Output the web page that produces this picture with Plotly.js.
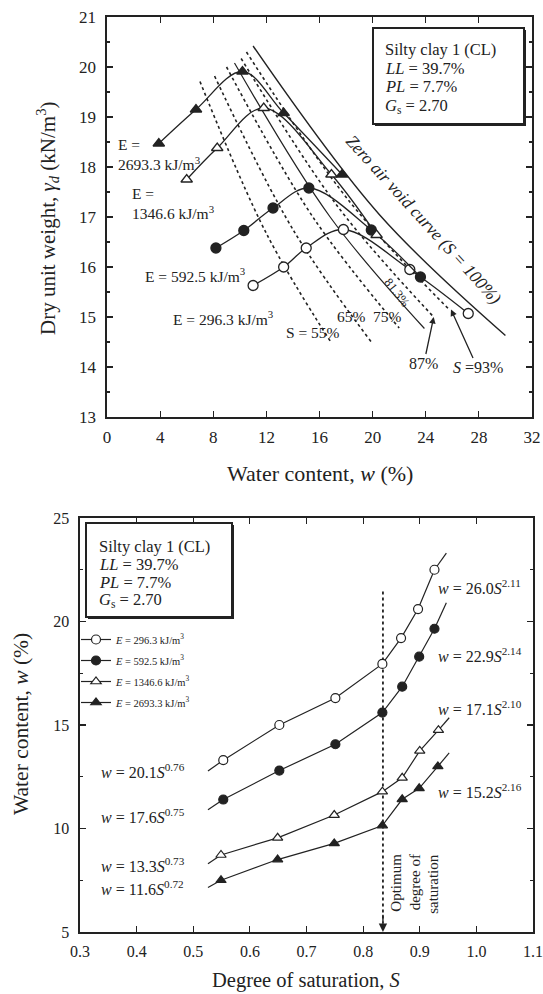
<!DOCTYPE html>
<html><head><meta charset="utf-8">
<script src="https://cdn.plot.ly/plotly-3.0.1.min.js"></script>
<style>html,body{margin:0;padding:0;background:#fff}#chart{width:543px;height:994px}</style>
</head><body><div id="chart"></div>
<script>
// ---------- TOP PLOT: compaction curves (w %, dry unit weight kN/m3) ----------
const e2693W = [3.9, 6.7, 10.2, 13.3, 17.7];
const e2693G = [18.47, 19.15, 19.91, 19.08, 17.85];
const e1346W = [6.0, 8.3, 11.8, 16.9, 20.3];
const e1346G = [17.75, 18.38, 19.18, 17.85, 16.64];
const e592W  = [8.2, 10.3, 12.5, 15.2, 19.9, 23.6];
const e592G  = [16.38, 16.73, 17.18, 17.58, 16.74, 15.80];
const e296W  = [11.0, 13.3, 15.0, 17.8, 22.8, 27.2];
const e296G  = [15.63, 16.00, 16.38, 16.75, 15.95, 15.07];

// constant degree-of-saturation lines (read start / middle / end)
const s55W  = [7.0, 12.0, 16.9],  s55G  = [19.71, 16.67, 14.48];
const s65W  = [8.1, 14.0, 19.9],  s65G  = [19.82, 16.75, 14.50];
const s75W  = [9.0, 15.5, 22.0],  s75G  = [20.00, 17.00, 14.78];
const s813W = [9.6, 16.8, 23.9],  s813G = [20.08, 17.00, 14.77];
const s87W  = [10.1, 17.4, 24.6], s87G  = [20.17, 17.20, 15.00];
const s93W  = [10.5, 18.2, 25.8], s93G  = [20.30, 17.33, 15.14];
const zavW  = [11.0, 20.5, 30.0], zavG  = [20.42, 17.05, 14.63];

// ---------- BOTTOM PLOT: water content vs degree of saturation ----------
const energyLabels = ['296.3', '592.5', '1346.6', '2693.3'];
const b296S = [0.553, 0.652, 0.751, 0.834, 0.867, 0.897, 0.926];
const b296Wc = [13.30, 15.00, 16.30, 17.95, 19.20, 20.60, 22.50];
const b592S = [0.553, 0.652, 0.751, 0.834, 0.869, 0.899, 0.926];
const b592Wc = [11.40, 12.80, 14.07, 15.60, 16.85, 18.30, 19.65];
const b1346S = [0.549, 0.649, 0.749, 0.834, 0.869, 0.900, 0.933];
const b1346Wc = [8.72, 9.55, 10.65, 11.78, 12.45, 13.75, 14.75];
const b2693S = [0.549, 0.649, 0.749, 0.834, 0.869, 0.899, 0.932];
const b2693Wc = [7.50, 8.50, 9.28, 10.14, 11.41, 11.94, 13.00];
// fitted-line extents (start of dry-side fit, end of wet-side fit)
const fitStart = {S: [0.526, 0.526, 0.526, 0.526], w: [12.78, 10.90, 8.30, 7.15]};
const fitEnd   = {S: [0.947, 0.947, 0.952, 0.952], w: [23.30, 20.90, 15.35, 13.65]};
const optS = [0.835, 0.835], optW = [21.45, 5.45];

const INK = '#222222';
const SERIF = 'Liberation Serif, Times New Roman, serif';
const traces = [];

function satLine(x, y, dash, w) {
  traces.push({x, y, xaxis:'x', yaxis:'y', mode:'lines', showlegend:false, hoverinfo:'skip',
    line:{color:INK, width:w, dash:dash, shape:'spline', smoothing:1}});
}
satLine(s55W, s55G, 'dot', 1.6);
satLine(s65W, s65G, 'dot', 1.6);
satLine(s75W, s75G, 'dot', 1.6);
satLine(s813W, s813G, 'solid', 1.2);
satLine(s87W, s87G, 'dot', 1.6);
satLine(s93W, s93G, 'dot', 1.6);
satLine(zavW, zavG, 'solid', 1.4);

function compCurve(x, y, sym, open) {
  traces.push({x, y, xaxis:'x', yaxis:'y', mode:'lines+markers', showlegend:false,
    line:{color:INK, width:1.3, shape:'spline', smoothing:1},
    marker:{symbol:sym, size:10, color: open ? '#ffffff' : INK, line:{color:INK, width:1.3}}});
}
compCurve(e296W, e296G, 'circle', true);
compCurve(e592W, e592G, 'circle', false);
compCurve(e1346W, e1346G, 'triangle-up', true);
compCurve(e2693W, e2693G, 'triangle-up', false);

// bottom
const bS = [b296S, b592S, b1346S, b2693S];
const bW = [b296Wc, b592Wc, b1346Wc, b2693Wc];
const bSym = ['circle', 'circle', 'triangle-up', 'triangle-up'];
const bOpen = [true, false, true, false];
traces.push({x: optS, y: optW, xaxis:'x2', yaxis:'y2', mode:'lines', showlegend:false,
  line:{color:INK, width:1.8, dash:'dot'}});
for (let i = 0; i < 4; i++) {
  const n = bS[i].length;
  traces.push({x:[fitStart.S[i], bS[i][0]], y:[fitStart.w[i], bW[i][0]], xaxis:'x2', yaxis:'y2',
    mode:'lines', showlegend:false, line:{color:INK, width:1.2}});
  traces.push({x:[bS[i][n-1], fitEnd.S[i]], y:[bW[i][n-1], fitEnd.w[i]], xaxis:'x2', yaxis:'y2',
    mode:'lines', showlegend:false, line:{color:INK, width:1.2}});
  traces.push({x:bS[i], y:bW[i], xaxis:'x2', yaxis:'y2', mode:'lines+markers', legendgroup:'g'+i,
    name:'<i>E</i> = ' + energyLabels[i] + ' kJ/m<sup>3</sup>',
    line:{color:INK, width:1.2},
    marker:{symbol:bSym[i], size:9, color: bOpen[i] ? '#ffffff' : INK, line:{color:INK, width:1.2}}});
}

const axBase = {showline:true, linecolor:INK, linewidth:1.6, mirror:'allticks', ticks:'inside',
  ticklen:6, tickcolor:INK, tickwidth:1.2, showgrid:false, zeroline:false,
  tickfont:{family:SERIF, size:17, color:INK}};

function pxX(p){return p/543;}
function pxY(p){return 1 - p/994;}

const ann = [];
function f(size){return {family:SERIF, size:size, color:INK};}
function t(x, y, text, o) { ann.push(Object.assign({x, y, xref:'x', yref:'y', text, showarrow:false,
  font:f(15.5)}, o || {})); }
function b(x, y, text, o) { ann.push(Object.assign({x, y, xref:'x2', yref:'y2', text, showarrow:false,
  font:f(16)}, o || {})); }
function p(x, y, text, o) { ann.push(Object.assign({x: pxX(x), y: pxY(y), xref:'paper', yref:'paper', text, showarrow:false,
  xanchor:'center', yanchor:'middle', font:f(21.5)}, o || {})); }

// top labels
t(0.7, 18.24, 'E =<br>2693.3 kJ/m<sup>3</sup>', {xanchor:'left', align:'left'});
t(1.7, 17.26, 'E =<br>1346.6 kJ/m<sup>3</sup>', {xanchor:'left', align:'left'});
t(2.7, 15.83, 'E = 592.5 kJ/m<sup>3</sup>', {xanchor:'left'});
t(4.8, 14.97, 'E = 296.3 kJ/m<sup>3</sup>', {xanchor:'left'});
t(15.5, 14.69, 'S = 55%');
t(18.4, 15.0, '65%');
t(21.1, 15.0, '75%');
t(21.8, 15.5, '81.3%', {textangle:52, font:f(12.5)});
t(23.8, 16.95, '<i>Zero air void curve (S = 100%)</i>', {textangle:47.7, font:f(17.5)});
t(24.6, 15.0, '87%', {showarrow:true, axref:'x', ayref:'y', ax:23.85, ay:14.06, arrowhead:2, arrowsize:1, arrowwidth:1.3, arrowcolor:INK, font:f(16)});
t(25.9, 15.15, '<i>S</i> =93%', {showarrow:true, axref:'x', ayref:'y', ax:27.9, ay:13.98, arrowhead:2, arrowsize:1, arrowwidth:1.3, arrowcolor:INK, font:f(16)});

// bottom labels
b(0.928, 21.68, '<i>w</i> = 26.0<i>S</i><sup>2.11</sup>', {xanchor:'left'});
b(0.928, 18.38, '<i>w</i> = 22.9<i>S</i><sup>2.14</sup>', {xanchor:'left'});
b(0.928, 15.80, '<i>w</i> = 17.1<i>S</i><sup>2.10</sup>', {xanchor:'left'});
b(0.928, 11.79, '<i>w</i> = 15.2<i>S</i><sup>2.16</sup>', {xanchor:'left'});
b(0.334, 12.78, '<i>w</i> = 20.1<i>S</i><sup>0.76</sup>', {xanchor:'left'});
b(0.334, 10.59, '<i>w</i> = 17.6<i>S</i><sup>0.75</sup>', {xanchor:'left'});
b(0.334, 8.24, '<i>w</i> = 13.3<i>S</i><sup>0.73</sup>', {xanchor:'left'});
b(0.334, 7.11, '<i>w</i> = 11.6<i>S</i><sup>0.72</sup>', {xanchor:'left'});
const optLines = ['Optimum', 'degree of', 'saturation'];
const optCols = [0.859, 0.892, 0.923];
optLines.forEach((s, i) => b(optCols[i], 8.86, s, {textangle:-90, yanchor:'top', font:f(15)}));
b(0.835, 5.0, '', {showarrow:true, axref:'x2', ayref:'y2', ax:0.835, ay:5.9, arrowhead:2, arrowsize:1.2, arrowwidth:1.4, arrowcolor:INK});

// property boxes (one annotation per line)
const boxLines = ['Silty clay 1 (CL)', '<i>LL</i> = 39.7%', '<i>PL</i> = 7.7%', '<i>G</i><sub>s</sub> = 2.70'];
const topBoxY = [49, 68, 87, 106], botBoxY = [546, 564, 582, 600];
boxLines.forEach((s, i) => {
  p(383, topBoxY[i], s, {xanchor:'left', font:f(16.5)});
  p(97, botBoxY[i], s, {xanchor:'left', font:f(16.5)});
});

// axis titles
p(319.5, 473, 'Water content, <i>w</i> (%)', {font:f(22)});
p(47, 218, 'Dry unit weight, <i>γ<sub>d</sub></i> (kN/m<sup>3</sup>)', {textangle:-90, font:f(21)});
p(306.5, 980, 'Degree of saturation, <i>S</i>', {font:f(20.5)});
p(21, 724, 'Water content, <i>w</i> (%)', {textangle:-90, font:f(21.5)});

const layout = {
  width:543, height:994, margin:{l:0, r:0, t:0, b:0},
  paper_bgcolor:'#ffffff', plot_bgcolor:'#ffffff',
  font:{family:SERIF, color:INK},
  xaxis: Object.assign({}, axBase, {domain:[pxX(107), pxX(532)], anchor:'y', range:[0,32], tick0:0, dtick:4, ticklabelstandoff:4}),
  yaxis: Object.assign({}, axBase, {domain:[pxY(417), pxY(17)], anchor:'x', range:[13,21], tick0:13, dtick:1, ticklabelstandoff:6,
    minor:{dtick:0.5, ticks:'inside', ticklen:3, tickcolor:INK}}),
  xaxis2: Object.assign({}, axBase, {domain:[pxX(80), pxX(533)], anchor:'y2', range:[0.3,1.1], tick0:0.3, dtick:0.1,
    tickformat:'.1f', ticklabelstandoff:4, tickfont:f(16)}),
  yaxis2: Object.assign({}, axBase, {domain:[pxY(932), pxY(518)], anchor:'x2', range:[5,25], tick0:5, dtick:5,
    ticklabelstandoff:6, tickfont:f(16),
    minor:{dtick:2.5, ticks:'inside', ticklen:3, tickcolor:INK}}),
  showlegend:true,
  legend:{x:pxX(76), y:pxY(625), xanchor:'left', yanchor:'top', bgcolor:'rgba(0,0,0,0)',
    font:f(10.5), tracegroupgap:2, itemwidth:30},
  annotations: ann,
  shapes:[
    {type:'rect', xref:'paper', yref:'paper', x0:pxX(373), x1:pxX(524), y0:pxY(124), y1:pxY(28), line:{color:INK, width:2}},
    {type:'line', xref:'paper', yref:'paper', x0:pxX(525), x1:pxX(525), y0:pxY(126), y1:pxY(30), line:{color:INK, width:2}},
    {type:'line', xref:'paper', yref:'paper', x0:pxX(375), x1:pxX(526), y0:pxY(125), y1:pxY(125), line:{color:INK, width:2}},
    {type:'rect', xref:'paper', yref:'paper', x0:pxX(86), x1:pxX(232), y0:pxY(617), y1:pxY(523), line:{color:INK, width:2}},
    {type:'line', xref:'paper', yref:'paper', x0:pxX(233), x1:pxX(233), y0:pxY(619), y1:pxY(525), line:{color:INK, width:2}},
    {type:'line', xref:'paper', yref:'paper', x0:pxX(88), x1:pxX(234), y0:pxY(618), y1:pxY(618), line:{color:INK, width:2}}
  ]
};
Plotly.newPlot('chart', traces, layout, {displayModeBar:false, staticPlot:true});
</script></body></html>
